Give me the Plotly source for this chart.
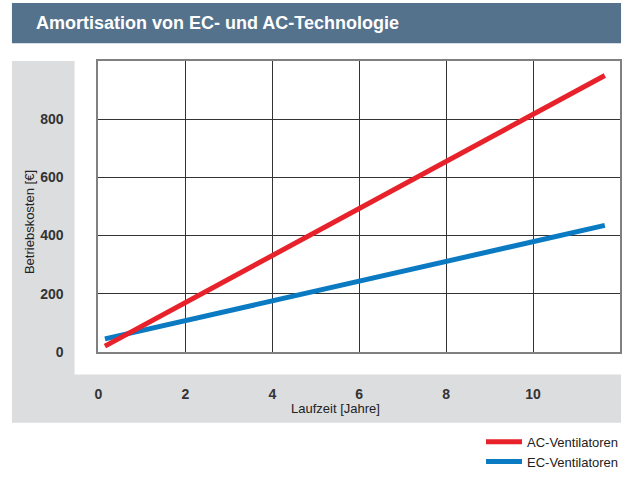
import plotly.graph_objects as go

# Data
series_names = ["AC-Ventilatoren", "EC-Ventilatoren"]
years = [0.15, 11.65]
ac_costs = [20, 950]
ec_costs = [45, 435]
x_ticks = [0, 2, 4, 6, 8, 10]
y_ticks = [0, 200, 400, 600, 800]
title_text = "Amortisation von EC- und AC-Technologie"
x_title = "Laufzeit [Jahre]"
y_title = "Betriebskosten [€]"

W, H = 627, 477
FONT = "Liberation Sans Narrow, Liberation Sans, Arial, sans-serif"

def px(x):
    return x / W

def py(y):
    return 1 - y / H

fig = go.Figure()
fig.add_trace(go.Scatter(x=years, y=ec_costs, mode="lines", name=series_names[1],
                         line=dict(color="#0a7bc2", width=5)))
fig.add_trace(go.Scatter(x=years, y=ac_costs, mode="lines", name=series_names[0],
                         line=dict(color="#e8222b", width=5)))

shapes = [
    dict(type="rect", xref="paper", yref="paper", x0=px(8), x1=px(621), y0=py(44), y1=py(3),
         fillcolor="#54728c", line=dict(width=0), layer="below"),
    dict(type="rect", xref="paper", yref="paper", x0=px(8), x1=px(621), y0=py(430), y1=py(62),
         fillcolor="#dcdddf", line=dict(width=0), layer="below"),
    dict(type="rect", xref="paper", yref="paper", x0=px(71), x1=px(621), y0=py(381), y1=py(62),
         fillcolor="#ffffff", line=dict(width=0), layer="below"),
]

annotations = [
    dict(text="<b>" + title_text + "</b>", xref="paper", yref="paper", x=px(30), y=py(23),
         xanchor="left", yanchor="middle", showarrow=False,
         font=dict(family=FONT, size=18, color="#ffffff")),
    dict(text=y_title, xref="paper", yref="paper", x=px(25), y=py(226), textangle=-90,
         xanchor="center", yanchor="middle", showarrow=False,
         font=dict(family=FONT, size=13, color="#222222")),
    dict(text=x_title, xref="paper", yref="paper", x=px(334), y=py(415),
         xanchor="center", yanchor="middle", showarrow=False,
         font=dict(family=FONT, size=13, color="#222222")),
]

fig.update_layout(
    width=W, height=H, autosize=False,
    margin=dict(l=0, r=0, t=0, b=0),
    paper_bgcolor="#ffffff",
    plot_bgcolor="rgba(0,0,0,0)",
    shapes=shapes,
    annotations=annotations,
    showlegend=True,
    legend=dict(x=px(624), xanchor="right", y=py(434), yanchor="top",
                font=dict(family=FONT, size=13, color="#222222"),
                bgcolor="rgba(0,0,0,0)", traceorder="reversed",
                itemwidth=36, tracegroupgap=0),
    xaxis=dict(domain=[px(95), px(620)], range=[0, 12], tickvals=x_ticks,
               showgrid=True, gridcolor="#333333", gridwidth=1, zeroline=False,
               showline=True, linecolor="#808080", linewidth=2, mirror=True,
               ticks="", ticklabelstandoff=28,
               tickfont=dict(family=FONT, size=14, color="#333333", weight="bold")),
    yaxis=dict(domain=[py(358), py(62)], range=[0, 1000], tickvals=y_ticks,
               showgrid=True, gridcolor="#333333", gridwidth=1, zeroline=False,
               showline=True, linecolor="#808080", linewidth=2, mirror=True,
               ticks="", ticklabelstandoff=30,
               tickfont=dict(family=FONT, size=14, color="#333333", weight="bold")),
)

fig.write_html(
    "out.html", config={"displayModeBar": False},
    post_script=("document.body.style.margin='0';document.body.style.padding='0';"
                 "document.body.style.overflow='hidden';"
                 "document.documentElement.style.overflow='hidden';"))
